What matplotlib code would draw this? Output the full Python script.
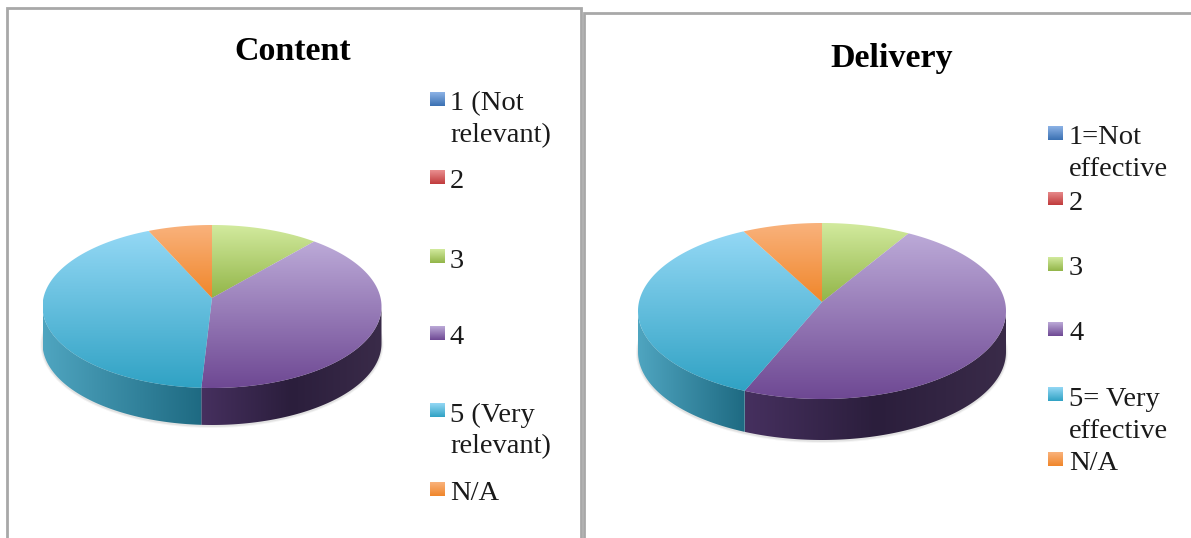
import numpy as np
import matplotlib
matplotlib.use('Agg')
import matplotlib.pyplot as plt
from matplotlib.colors import LinearSegmentedColormap
from matplotlib.patches import Polygon, Rectangle, Ellipse

# values, in percent
content_labels = ['1 (Not\nrelevant)', '2', '3', '4', '5 (Very\nrelevant)', 'N/A']
content_values = [0, 0, 10.3, 40.7, 42.9, 6.1]
delivery_labels = ['1=Not\neffective', '2', '3', '4', '5= Very\neffective', 'N/A']
delivery_values = [0, 0, 7.8, 49.1, 36.1, 7.0]

top_colors = [('#8db3e6', '#3a70b2'), ('#ea9090', '#c03a3c'), ('#d2ea9e', '#92b548'),
              ('#bcaad8', '#6e4893'), ('#94d8f5', '#30a2c4'), ('#f9b27c', '#f0862a')]
side_colors = [('#3a70b2', '#24466f'), ('#c03a3c', '#7a2526'), ('#92b548', '#5c7230'),
               ('#46305f', '#2b1e3c', '#3a2b49'), ('#4fa5c0', '#1e6a82'), ('#f0862a', '#a05a1c')]

SERIF = 'Liberation Serif'

fig = plt.figure(figsize=(11.91, 5.38), dpi=100)
ax = fig.add_axes([0, 0, 1, 1])
ax.axis('off')


def gradient(colors, box, patch, vertical=True):
    # gradient image clipped to the patch
    cmap = LinearSegmentedColormap.from_list('g', colors)
    ramp = np.linspace(0, 1, 256)
    ramp = ramp.reshape(-1, 1) if vertical else ramp.reshape(1, -1)
    x0, x1, y0, y1 = box
    im = ax.imshow(ramp, cmap=cmap, extent=(x0, x1, y1, y0), origin='upper', aspect='auto',
                   interpolation='bilinear', zorder=patch.get_zorder())
    patch.set_facecolor('none')
    ax.add_patch(patch)
    im.set_clip_path(patch)


def rim(theta, cx, cy, rx, ry):
    return cx + rx * np.sin(theta), cy - ry * np.cos(theta)


def draw_pie(values, cx, cy, apex_y, rx, ry, depth):
    values = np.array(values, dtype=float)
    edges = np.deg2rad(np.concatenate([[0], np.cumsum(values) / values.sum() * 360]))

    # soft shadow under the disc
    for grow, alpha in [(2, 0.05), (1, 0.09)]:
        ax.add_patch(Ellipse((cx, cy + depth + 1), 2 * rx + 2 * grow, 2 * ry + 2 * grow,
                             fc='#303030', ec='none', alpha=alpha, zorder=1))

    # walls of the front half
    for i, v in enumerate(values):
        lo, hi = max(edges[i], np.pi / 2), min(edges[i + 1], 3 * np.pi / 2)
        if v == 0 or hi <= lo:
            continue
        t = np.linspace(lo, hi, 120)
        x, y = rim(t, cx, cy, rx, ry)
        pts = np.column_stack([np.r_[x, x[::-1]], np.r_[y, y[::-1] + depth]])
        # horizontal ramp, left to right on screen
        gradient(side_colors[i], (x.min(), x.max(), y.min(), y.max() + depth),
                 Polygon(pts, closed=True, ec='none', zorder=2), vertical=False)

    # top faces
    for i, v in enumerate(values):
        if v == 0:
            continue
        t = np.linspace(edges[i], edges[i + 1], 200)
        x, y = rim(t, cx, cy, rx, ry)
        pts = np.column_stack([np.r_[cx, x], np.r_[apex_y, y]])
        gradient(top_colors[i], (pts[:, 0].min(), pts[:, 0].max(), pts[:, 1].min(), pts[:, 1].max()),
                 Polygon(pts, closed=True, ec='none', zorder=3))


def draw_legend(labels, x, tops, text_x, line_gap, size):
    for i, label in enumerate(labels):
        gradient(top_colors[i], (x, x + 15, tops[i], tops[i] + 14),
                 Rectangle((x, tops[i]), 15, 14, ec='none', zorder=3))
        for j, line in enumerate(label.split('\n')):
            ax.text(text_x, tops[i] + 12 + j * line_gap, line, fontsize=size, family=SERIF,
                    color='#1a1a1a', ha='left', va='center', zorder=4)


# panel frames
ax.add_patch(Rectangle((7, 7.5), 574, 560, fc='white', ec='#a8a8a8', lw=2, zorder=0.5))
ax.add_patch(Rectangle((583.5, 13), 640, 560, fc='white', ec='#a8a8a8', lw=2, zorder=0.6))

draw_pie(content_values, 212, 306.5, 298, 169.5, 81.5, 37)
draw_pie(delivery_values, 822, 311, 302, 184, 88, 41)

draw_legend(content_labels, 429.5, [92, 170, 249, 326, 403, 482], 450, 32, 20.5)
draw_legend(delivery_labels, 1048, [126, 191.5, 256.7, 322, 387, 451.6], 1069, 32, 20.5)

ax.text(293, 52, 'Content', fontsize=24.5, family=SERIF, fontweight='bold', ha='center', va='center', zorder=4)
ax.text(892, 58, 'Delivery', fontsize=24.5, family=SERIF, fontweight='bold', ha='center', va='center', zorder=4)

ax.set_xlim(0, 1191)
ax.set_ylim(538, 0)
fig.savefig('out.png', dpi=100, facecolor='white')
